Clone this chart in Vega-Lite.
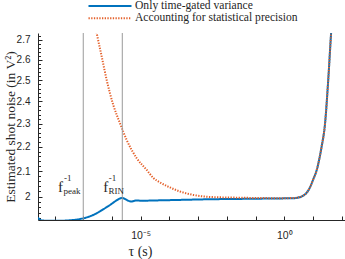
{
  "$schema": "https://vega.github.io/schema/vega-lite/v6.json",
  "autosize": {"type": "none"},
  "width": 307,
  "height": 187,
  "padding": {"left": 38, "top": 33, "right": 0, "bottom": 39},
  "config": {"view": {"stroke": null}, "font": "Liberation Sans"},
  "datasets": {
    "curves": [
      {"series": "Only time-gated variance", "tau": 2.630e-9, "val": 1.921},
      {"series": "Only time-gated variance", "tau": 3.548e-9, "val": 1.911},
      {"series": "Only time-gated variance", "tau": 7.079e-9, "val": 1.9097},
      {"series": "Only time-gated variance", "tau": 1.549e-8, "val": 1.9099},
      {"series": "Only time-gated variance", "tau": 3.467e-8, "val": 1.9116},
      {"series": "Only time-gated variance", "tau": 7.762e-8, "val": 1.9164},
      {"series": "Only time-gated variance", "tau": 1.462e-7, "val": 1.9237},
      {"series": "Only time-gated variance", "tau": 2.938e-7, "val": 1.9374},
      {"series": "Only time-gated variance", "tau": 4.864e-7, "val": 1.9516},
      {"series": "Only time-gated variance", "tau": 8.531e-7, "val": 1.9685},
      {"series": "Only time-gated variance", "tau": 1.380e-6, "val": 1.9844},
      {"series": "Only time-gated variance", "tau": 1.820e-6, "val": 1.9925},
      {"series": "Only time-gated variance", "tau": 2.178e-6, "val": 1.9950},
      {"series": "Only time-gated variance", "tau": 2.630e-6, "val": 1.9930},
      {"series": "Only time-gated variance", "tau": 3.076e-6, "val": 1.9893},
      {"series": "Only time-gated variance", "tau": 3.802e-6, "val": 1.9840},
      {"series": "Only time-gated variance", "tau": 4.864e-6, "val": 1.9817},
      {"series": "Only time-gated variance", "tau": 5.754e-6, "val": 1.9835},
      {"series": "Only time-gated variance", "tau": 6.855e-6, "val": 1.9851},
      {"series": "Only time-gated variance", "tau": 1.202e-5, "val": 1.9847},
      {"series": "Only time-gated variance", "tau": 3.981e-5, "val": 1.9858},
      {"series": "Only time-gated variance", "tau": 1.791e-4, "val": 1.9874},
      {"series": "Only time-gated variance", "tau": 2.588e-3, "val": 1.9901},
      {"series": "Only time-gated variance", "tau": 3.162e-2, "val": 1.9915},
      {"series": "Only time-gated variance", "tau": 0.1426, "val": 1.9924},
      {"series": "Only time-gated variance", "tau": 0.631, "val": 1.9933},
      {"series": "Only time-gated variance", "tau": 1.995, "val": 1.9939},
      {"series": "Only time-gated variance", "tau": 3.020, "val": 1.9965},
      {"series": "Only time-gated variance", "tau": 4.571, "val": 2.0040},
      {"series": "Only time-gated variance", "tau": 6.310, "val": 2.0180},
      {"series": "Only time-gated variance", "tau": 7.943, "val": 2.0370},
      {"series": "Only time-gated variance", "tau": 10, "val": 2.0650},
      {"series": "Only time-gated variance", "tau": 13.49, "val": 2.1050},
      {"series": "Only time-gated variance", "tau": 16.60, "val": 2.1500},
      {"series": "Only time-gated variance", "tau": 19.95, "val": 2.2010},
      {"series": "Only time-gated variance", "tau": 26.30, "val": 2.3017},
      {"series": "Only time-gated variance", "tau": 33.88, "val": 2.5006},
      {"series": "Only time-gated variance", "tau": 42.27, "val": 2.7260},
      {"series": "Only time-gated variance", "tau": 45.71, "val": 2.80},
      {"series": "Accounting for statistical precision", "tau": 2.239e-7, "val": 2.827},
      {"series": "Accounting for statistical precision", "tau": 2.938e-7, "val": 2.735},
      {"series": "Accounting for statistical precision", "tau": 4.385e-7, "val": 2.6157},
      {"series": "Accounting for statistical precision", "tau": 6.546e-7, "val": 2.5006},
      {"series": "Accounting for statistical precision", "tau": 1.112e-6, "val": 2.3836},
      {"series": "Accounting for statistical precision", "tau": 1.901e-6, "val": 2.3017},
      {"series": "Accounting for statistical precision", "tau": 3.258e-6, "val": 2.2292},
      {"series": "Accounting for statistical precision", "tau": 7.261e-6, "val": 2.1529},
      {"series": "Accounting for statistical precision", "tau": 1.618e-5, "val": 2.1050},
      {"series": "Accounting for statistical precision", "tau": 2.748e-5, "val": 2.0731},
      {"series": "Accounting for statistical precision", "tau": 4.699e-5, "val": 2.0552},
      {"series": "Accounting for statistical precision", "tau": 1.047e-4, "val": 2.0356},
      {"series": "Accounting for statistical precision", "tau": 2.333e-4, "val": 2.0200},
      {"series": "Accounting for statistical precision", "tau": 6.792e-4, "val": 2.0065},
      {"series": "Accounting for statistical precision", "tau": 2.588e-3, "val": 1.9989},
      {"series": "Accounting for statistical precision", "tau": 3.648e-2, "val": 1.9958},
      {"series": "Accounting for statistical precision", "tau": 0.514, "val": 1.9943},
      {"series": "Accounting for statistical precision", "tau": 1.995, "val": 1.9945},
      {"series": "Accounting for statistical precision", "tau": 3.020, "val": 1.9967},
      {"series": "Accounting for statistical precision", "tau": 4.571, "val": 2.0040},
      {"series": "Accounting for statistical precision", "tau": 6.310, "val": 2.0180},
      {"series": "Accounting for statistical precision", "tau": 7.943, "val": 2.0370},
      {"series": "Accounting for statistical precision", "tau": 10, "val": 2.0650},
      {"series": "Accounting for statistical precision", "tau": 13.49, "val": 2.1050},
      {"series": "Accounting for statistical precision", "tau": 16.60, "val": 2.1500},
      {"series": "Accounting for statistical precision", "tau": 19.95, "val": 2.2010},
      {"series": "Accounting for statistical precision", "tau": 26.30, "val": 2.3017},
      {"series": "Accounting for statistical precision", "tau": 33.88, "val": 2.5006},
      {"series": "Accounting for statistical precision", "tau": 42.27, "val": 2.7260},
      {"series": "Accounting for statistical precision", "tau": 45.71, "val": 2.80}
    ],
    "vlines": [{"tau": 1e-7}, {"tau": 2.286e-6}],
    "notes": [
      {"kind": "main", "tau": 1.318e-8, "val": 2.0181, "txt": "f"},
      {"kind": "sub", "tau": 2.051e-8, "val": 2.0084, "txt": "peak"},
      {"kind": "sup", "tau": 2.133e-8, "val": 2.0610, "txt": "-1"},
      {"kind": "main", "tau": 4.989e-7, "val": 2.0181, "txt": "f"},
      {"kind": "sub", "tau": 7.568e-7, "val": 2.0084, "txt": "RIN"},
      {"kind": "sup", "tau": 7.691e-7, "val": 2.0610, "txt": "-1"}
    ]
  },
  "resolve": {"axis": {"y": "independent"}},
  "layer": [
    {
      "data": {"name": "curves"},
      "mark": {"type": "line", "strokeWidth": 2, "clip": true, "interpolate": "monotone"},
      "encoding": {
        "x": {
          "field": "tau", "type": "quantitative",
          "scale": {"type": "log", "domain": [2.655e-9, 130.0], "nice": false},
          "axis": {
            "orient": "bottom",
            "values": [1e-8, 1e-7, 1e-6, 1e-5, 1e-4, 1e-3, 1e-2, 1e-1, 1, 10, 100],
            "labelExpr": "abs(log(datum.value)/LN10 + 5) < 0.01 ? '10⁻⁵' : (abs(log(datum.value)/LN10) < 0.01 ? '10⁰' : '')",
            "tickSize": -4,
            "tickColor": "#262626",
            "domainColor": "#262626",
            "labelColor": "#262626",
            "labelFont": "Liberation Sans",
            "labelFontSize": 10.5,
            "labelPadding": 14,
            "grid": false,
            "title": "τ (s)",
            "titleFont": "Liberation Serif",
            "titleFontSize": 14,
            "titleFontWeight": "normal",
            "titleColor": "#262626",
            "titleX": 102,
            "titleY": 35,
            "titleAlign": "center",
            "titleBaseline": "alphabetic"
          }
        },
        "y": {
          "field": "val", "type": "quantitative",
          "scale": {"type": "log", "domain": [1.9126, 2.7362], "nice": false, "zero": false},
          "axis": {
            "orient": "left",
            "values": [2, 2.1, 2.2, 2.3, 2.4, 2.5, 2.6, 2.7],
            "format": ".2~f",
            "tickSize": -4,
            "tickColor": "#262626",
            "domainColor": "#262626",
            "labelColor": "#262626",
            "labelFont": "Liberation Sans",
            "labelFontSize": 10,
            "labelPadding": 12,
            "grid": false,
            "title": "Estimated shot noise (in V²)",
            "titleFont": "Liberation Serif",
            "titleFontSize": 13.5,
            "titleFontWeight": "normal",
            "titleColor": "#262626",
            "titlePadding": -1
          }
        },
        "color": {
          "field": "series", "type": "nominal",
          "scale": {"domain": ["Only time-gated variance", "Accounting for statistical precision"], "range": ["#0072BD", "#E4602A"]},
          "legend": {
            "orient": "none", "legendX": 49, "legendY": -33, "title": null,
            "symbolType": "stroke", "symbolSize": 1850, "symbolStrokeWidth": 2, "clipHeight": 12,
            "labelFont": "Liberation Serif", "labelFontSize": 11.6, "labelColor": "#262626",
            "labelOffset": 2, "rowPadding": 0.3, "direction": "vertical", "labelLimit": 300
          }
        },
        "strokeDash": {
          "field": "series", "type": "nominal",
          "scale": {"domain": ["Only time-gated variance", "Accounting for statistical precision"], "range": [[1, 0], [1.3, 1.4]]},
          "legend": {
            "orient": "none", "legendX": 49, "legendY": -33, "title": null,
            "symbolType": "stroke", "symbolSize": 1850, "symbolStrokeWidth": 2, "clipHeight": 12,
            "labelFont": "Liberation Serif", "labelFontSize": 11.6, "labelColor": "#262626",
            "labelOffset": 2, "rowPadding": 0.3, "direction": "vertical", "labelLimit": 300
          }
        },
        "order": {"field": "series", "type": "nominal"}
      }
    },
    {
      "data": {"name": "vlines"},
      "mark": {"type": "rule", "color": "#9a9a9a", "strokeWidth": 1},
      "encoding": {
        "x": {"field": "tau", "type": "quantitative"}
      }
    },
    {
      "data": {"name": "notes"},
      "transform": [{"filter": "datum.kind == 'main'"}],
      "mark": {"type": "text", "align": "left", "baseline": "alphabetic", "font": "Liberation Serif", "fontSize": 15, "fill": "#262626"},
      "encoding": {
        "x": {"field": "tau", "type": "quantitative"},
        "y": {
          "field": "val", "type": "quantitative",
          "axis": {
            "orient": "left",
            "values": [1.92, 1.94, 1.96, 1.98, 2.02, 2.04, 2.06, 2.08, 2.12, 2.14, 2.16, 2.18, 2.22, 2.24, 2.26, 2.28, 2.32, 2.34, 2.36, 2.38, 2.42, 2.44, 2.46, 2.48, 2.52, 2.54, 2.56, 2.58, 2.62, 2.64, 2.66, 2.68, 2.72],
            "labels": false, "domain": false, "grid": false, "title": null,
            "tickSize": -2.5, "tickColor": "#262626"
          }
        },
        "text": {"field": "txt"}
      }
    },
    {
      "data": {"name": "notes"},
      "transform": [{"filter": "datum.kind != 'main'"}],
      "mark": {"type": "text", "align": "left", "baseline": "alphabetic", "font": "Liberation Serif", "fontSize": 9, "fill": "#262626"},
      "encoding": {
        "x": {"field": "tau", "type": "quantitative"},
        "y": {"field": "val", "type": "quantitative", "axis": null},
        "text": {"field": "txt"}
      }
    }
  ]
}
